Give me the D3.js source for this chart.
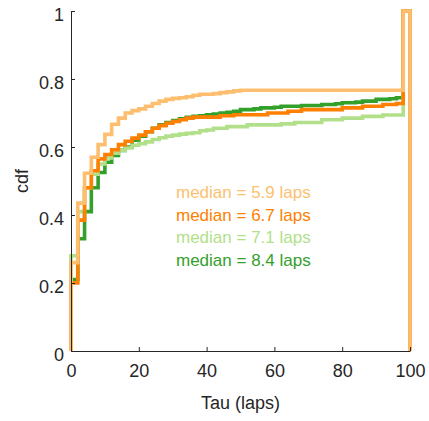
<!DOCTYPE html>
<html>
<head>
<meta charset="utf-8">
<script src="https://cdn.jsdelivr.net/npm/d3@7"></script>
<style>
  body { margin: 0; background: #fff; }
  text { font-family: "Liberation Sans", Arial, sans-serif; }
</style>
</head>
<body>
<div id="chart"></div>
<script>
var W = 429, H = 421
var margin = { top: 11, right: 19, bottom: 70, left: 71 }
var width = W - margin.left - margin.right
var height = H - margin.top - margin.bottom

// start of each 2-lap bin, the last bin ends at 100
var binStart = [0, 2, 4, 6, 8, 10, 12, 14, 16, 18, 20, 22, 24, 26, 28, 30, 32, 34, 36, 38,
  40, 42, 44, 46, 48, 50, 52, 54, 56, 58, 60, 62, 64, 66, 68, 70, 72, 74, 76, 78,
  80, 82, 84, 86, 88, 90, 92, 94, 96, 98]
var binEnd = 100

var cdfA = [0.26, 0.435, 0.523, 0.57, 0.607, 0.637, 0.667, 0.685, 0.7, 0.707, 0.712, 0.72, 0.728, 0.735, 0.74, 0.743, 0.745, 0.748, 0.752, 0.755,
  0.755, 0.757, 0.76, 0.762, 0.765, 0.767, 0.767, 0.767, 0.767, 0.767, 0.767, 0.767, 0.767, 0.767, 0.767, 0.767, 0.767, 0.767, 0.767, 0.767,
  0.767, 0.767, 0.767, 0.767, 0.767, 0.767, 0.767, 0.767, 0.767, 1]
var cdfB = [0.20, 0.385, 0.48, 0.53, 0.565, 0.578, 0.592, 0.607, 0.617, 0.626, 0.635, 0.645, 0.655, 0.663, 0.67, 0.675, 0.68, 0.685, 0.688, 0.688,
  0.688, 0.688, 0.692, 0.692, 0.695, 0.695, 0.695, 0.695, 0.695, 0.70, 0.70, 0.70, 0.705, 0.705, 0.71, 0.71, 0.71, 0.71, 0.71, 0.71,
  0.715, 0.715, 0.715, 0.72, 0.72, 0.72, 0.725, 0.725, 0.728, 1]
var cdfC = [0.28, 0.41, 0.48, 0.52, 0.55, 0.568, 0.582, 0.59, 0.597, 0.605, 0.61, 0.615, 0.622, 0.627, 0.632, 0.635, 0.638, 0.64, 0.642, 0.648,
  0.65, 0.655, 0.655, 0.66, 0.66, 0.66, 0.665, 0.665, 0.665, 0.665, 0.665, 0.668, 0.668, 0.672, 0.672, 0.672, 0.672, 0.68, 0.68, 0.68,
  0.685, 0.685, 0.685, 0.69, 0.69, 0.69, 0.694, 0.694, 0.694, 1]
var cdfD = [0.21, 0.33, 0.41, 0.48, 0.525, 0.555, 0.575, 0.59, 0.60, 0.62, 0.632, 0.645, 0.655, 0.665, 0.672, 0.678, 0.683, 0.687, 0.69, 0.692,
  0.695, 0.697, 0.70, 0.702, 0.705, 0.71, 0.71, 0.712, 0.715, 0.715, 0.717, 0.72, 0.72, 0.72, 0.722, 0.722, 0.722, 0.725, 0.725, 0.727,
  0.73, 0.73, 0.732, 0.735, 0.735, 0.74, 0.74, 0.742, 0.745, 1]

var labels = ["median = 5.9 laps", "median = 6.7 laps", "median = 7.1 laps", "median = 8.4 laps"]
var colors = ["#fdbf6f", "#ff7f00", "#b2df8a", "#33a02c"]
var series = [cdfA, cdfB, cdfC, cdfD]
var drawOrder = [3, 2, 1, 0]

var xTicks = [0, 20, 40, 60, 80, 100]
var yTicks = [0, 0.2, 0.4, 0.6, 0.8, 1]

var x = d3.scaleLinear().domain([0, 100]).range([0, width])
var y = d3.scaleLinear().domain([0, 1]).range([height, 0])

var svg = d3.select("#chart").append("svg")
  .attr("width", W)
  .attr("height", H)
  .append("g")
  .attr("transform", "translate(" + margin.left + "," + margin.top + ")")

var line = d3.line()
  .x(d => x(d[0]))
  .y(d => y(d[1]))
  .curve(d3.curveStepAfter)

function pts(vals) {
  var p = [[0, 0]]
  vals.forEach(function (v, i) { p.push([binStart[i], v]) })
  p.push([binEnd, vals[vals.length - 1]])
  p.push([binEnd, 0])
  return p
}

drawOrder.forEach(function (k) {
  svg.append("path")
    .attr("d", line(pts(series[k])))
    .attr("fill", "none")
    .attr("stroke", colors[k])
    .attr("stroke-width", 3.6)
    .attr("stroke-linejoin", "miter")
})

// axes, ticks pointing inward
var ax = "#262626"
var xAxis = svg.append("g")
  .attr("transform", "translate(0," + height + ")")
  .call(d3.axisBottom(x).tickValues(xTicks).tickSize(-4).tickPadding(13).tickSizeOuter(0))
var yAxis = svg.append("g")
  .call(d3.axisLeft(y).tickValues(yTicks).tickFormat(d3.format("~g")).tickSize(-4).tickPadding(7).tickSizeOuter(0))

;[xAxis, yAxis].forEach(function (g) {
  g.select(".domain").attr("stroke", ax).attr("stroke-width", 1)
  g.selectAll(".tick line").attr("stroke", ax)
  g.selectAll(".tick text")
    .attr("fill", ax)
    .style("font-size", "18px")
    .style("font-family", "'Liberation Sans', Arial, sans-serif")
})
yAxis.selectAll(".tick text").attr("dy", "0.5em")

svg.append("text")
  .attr("x", width / 2)
  .attr("y", height + 58)
  .attr("text-anchor", "middle")
  .attr("fill", ax)
  .style("font-size", "18px")
  .text("Tau (laps)")

svg.append("text")
  .attr("transform", "translate(" + (28 - margin.left) + "," + (height / 2) + ") rotate(-90)")
  .attr("text-anchor", "middle")
  .attr("fill", ax)
  .style("font-size", "18px")
  .text("cdf")

svg.selectAll(".median")
  .data(labels)
  .enter()
  .append("text")
  .attr("class", "median")
  .attr("x", 176 - margin.left)
  .attr("y", (d, i) => 198 - margin.top + i * 22.5)
  .attr("fill", (d, i) => colors[i])
  .style("font-size", "17px")
  .text(d => d)
</script>
</body>
</html>
